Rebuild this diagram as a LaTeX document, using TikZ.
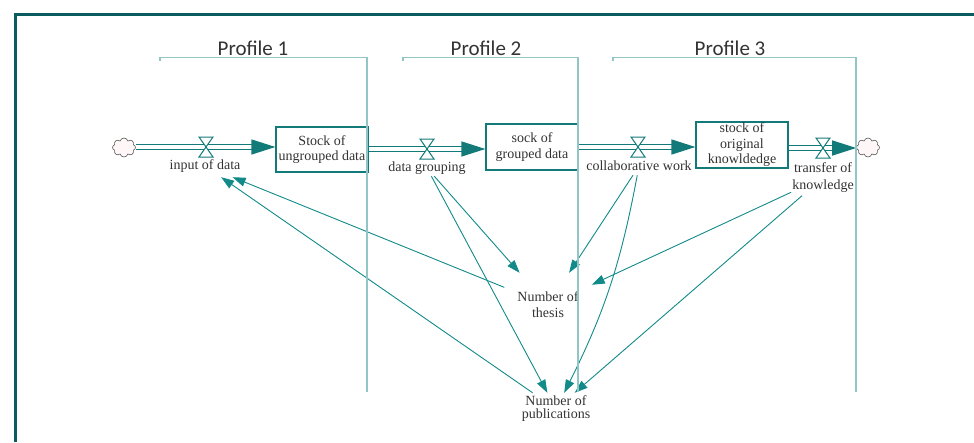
\documentclass[tikz,border=0pt]{standalone}
\usepackage{fontspec}
\setmainfont{Liberation Serif}
\newfontfamily\profilefont{Carlito}
\usetikzlibrary{arrows.meta}
\usetikzlibrary{shapes.symbols}

\definecolor{frameTeal}{HTML}{0B5C5E}
\definecolor{stockTeal}{HTML}{137A7A}
\definecolor{linkTeal}{HTML}{128A8A}
\definecolor{profileTeal}{HTML}{92C6C6}
\definecolor{textGray}{HTML}{333333}

\begin{document}
\begin{tikzpicture}
      [x=1pt,y=-1pt,
       stockBox/.style={rectangle,draw=stockTeal,line width=1.2pt,minimum width=92pt,minimum height=46pt,inner sep=1pt,align=center,text=textGray,font=\fontsize{14}{15.5}\selectfont},
       flowLabel/.style={rectangle,inner sep=1pt,align=center,text=textGray,font=\fontsize{14}{17}\selectfont},
       auxVar/.style={rectangle,inner sep=1pt,align=center,text=textGray,font=\fontsize{14}{16}\selectfont},
       profileLabel/.style={anchor=base,inner sep=0pt,text=black!80,font=\profilefont\fontsize{21}{24}\selectfont},
       cloudEnd/.style={cloud,cloud puffs=8,aspect=1.2,draw=black!65,fill=red!3,line width=0.6pt,minimum width=23pt,minimum height=19pt,inner sep=0pt},
       pipe/.style={draw=stockTeal,double=white,double distance=3.5pt,line width=1.3pt,-{Triangle[length=24pt,width=15pt]}},
       link/.style={draw=linkTeal,line width=0.9pt,-{Triangle[length=13pt,width=9pt]}},
       profileLine/.style={draw=profileTeal,line width=1.8pt},
       valve/.pic={\draw[stockTeal,fill=white,line width=1pt] (-7,-10) -- (7,-10) -- (0,0) -- cycle (-7,10) -- (7,10) -- (0,0) -- cycle;}]
      \useasboundingbox (0,0) rectangle (974,442);
      \draw[frameTeal,line width=3pt] (15.5,442) -- (15.5,14.5) -- (974,14.5);

      % stocks and clouds
      \node[cloudEnd] (cloudL) at (124,147.5) {};
      \node[stockBox,minimum height=45pt] (ungrouped) at (322,149.5) {Stock of\\ungrouped data};
      \node[stockBox] (grouped) at (532,147) {sock of\\grouped data};
      \node[stockBox] (original) at (742,145) {stock of\\original\\knowldedge};
      \node[cloudEnd] (cloudR) at (868,147.5) {};

      % flows
      \coordinate (inValve) at (206,147);
      \coordinate (groupValve) at (427,149);
      \coordinate (collabValve) at (638,147);
      \coordinate (transValve) at (823,148);
      \draw[pipe] (cloudL.east |- inValve) -- (ungrouped.west |- inValve);
      \draw[pipe] (ungrouped.east |- groupValve) -- (grouped.west |- groupValve);
      \draw[pipe] (grouped.east |- collabValve) -- (original.west |- collabValve);
      \draw[pipe] (original.east |- transValve) -- (cloudR.west |- transValve);
      \pic at (inValve) {valve};
      \pic at (groupValve) {valve};
      \pic at (collabValve) {valve};
      \pic at (transValve) {valve};
      \node[flowLabel,minimum width=80pt,minimum height=22pt] (inputLbl) at (205,166) {input of data};
      \node[flowLabel,minimum width=80pt,minimum height=16pt] (groupLbl) at (427,168) {data grouping};
      \node[flowLabel,minimum height=18pt] (collabLbl) at (639,166) {collaborative work};
      \node[flowLabel,minimum height=36pt] (transLbl) at (823,177.5) {transfer of\\knowledge};

      % auxiliaries and links
      \node[auxVar,minimum width=87pt,minimum height=64pt] (thesis) at (548,305) {Number of\\thesis};
      \node[auxVar,minimum width=76pt,minimum height=32pt,font=\fontsize{14}{13}\selectfont] (pubs) at (556,409) {Number of\\publications};
      \draw[link] (thesis) -- (inputLbl);
      \draw[link] (pubs) -- (inputLbl);
      \draw[link] (groupLbl) -- (thesis);
      \draw[link] (groupLbl) -- (pubs);
      \draw[link] (collabLbl) -- (thesis);
      \draw[link] (collabLbl) to[bend left=8] (pubs);
      \draw[link] (transLbl) -- (thesis);
      \draw[link] (transLbl) -- (pubs);

      % profiles
      \draw[profileLine] (160,60.5) -- (160,57.5) -- (367,57.5) -- (367,392);
      \draw[profileLine] (403,60.5) -- (403,57.5) -- (578,57.5) -- (578,392);
      \draw[profileLine] (613,60.5) -- (613,57.5) -- (856,57.5) -- (856,392);
      \node[profileLabel] (prof1) at (253,55) {Profile 1};
      \node[profileLabel] (prof2) at (486,55) {Profile 2};
      \node[profileLabel] (prof3) at (730,55) {Profile 3};
    \end{tikzpicture}
\end{document}
